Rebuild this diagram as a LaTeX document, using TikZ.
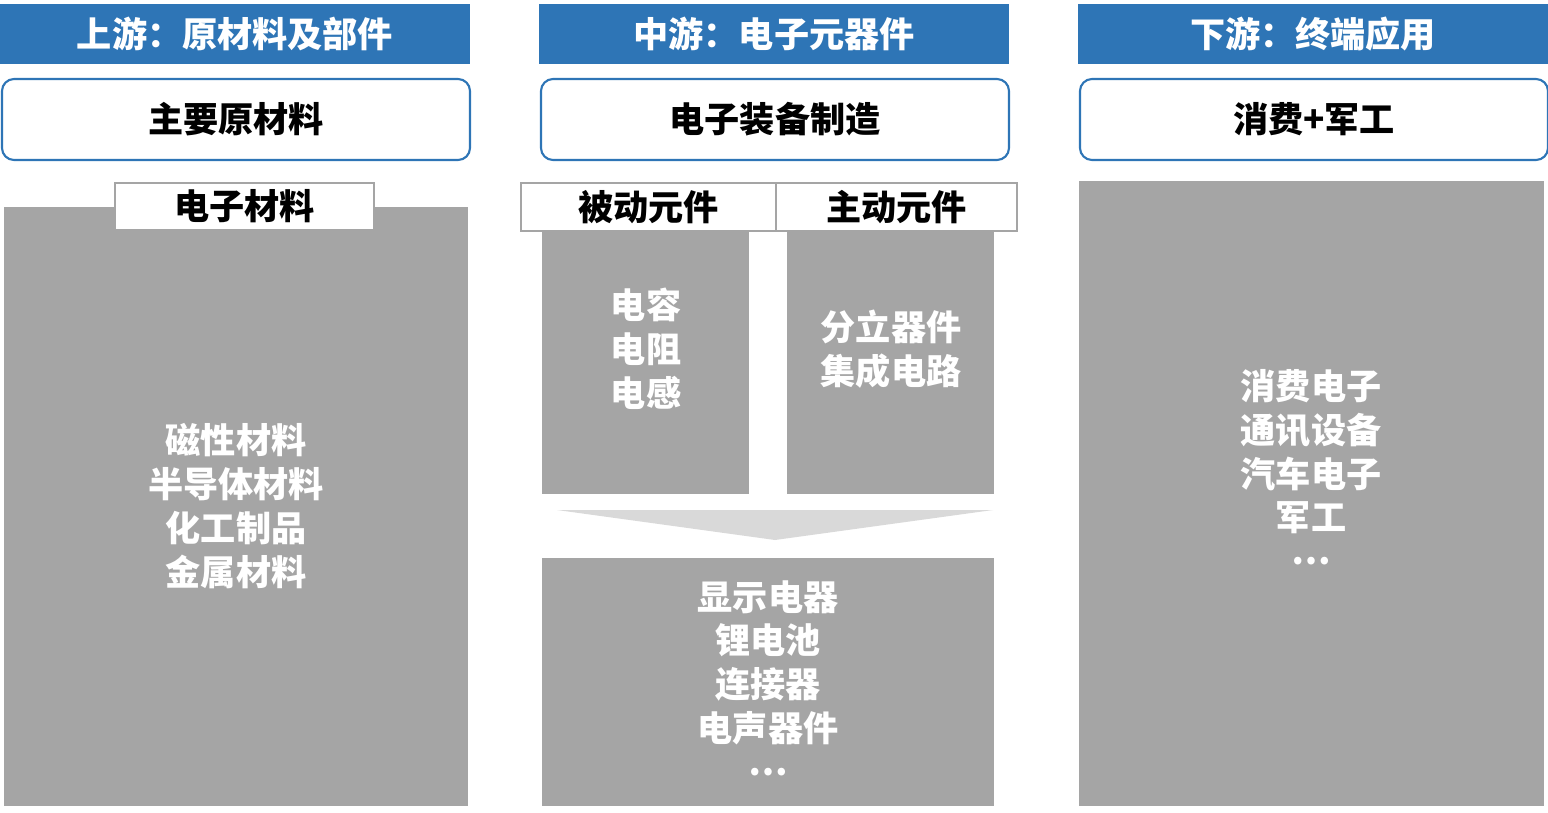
\documentclass[tikz,border=0pt]{standalone}
\usepackage{fontspec}
\setmainfont{Noto Sans CJK SC}
\usetikzlibrary{fit}
\definecolor{hdrblue}{HTML}{2E75B6}
\definecolor{boxgray}{HTML}{A5A5A5}
\definecolor{arrgray}{HTML}{D9D9D9}
\newcommand{\middots}{\raisebox{0.3em}{…}}

\begin{document}
\begin{tikzpicture}[x=0.02cm,y=-0.02cm,
    txt/.style={font=\bfseries\fontsize{20}{25}\selectfont, align=center},
    hdr/.style={fill=hdrblue, inner sep=0},
    rbox/.style={draw=hdrblue, line width=1.2pt, rounded corners=0.24cm, fill=white, inner sep=0},
    graybox/.style={fill=boxgray, inner sep=0},
    tab/.style={draw=boxgray, line width=1.2pt, fill=white, inner sep=0},
    body/.style={txt, text=white}]
\useasboundingbox (0,0) rectangle (1548,812);

% headers and top boxes
\foreach \x/\name/\head/\sub in {0/up/上游：原材料及部件/主要原材料,
        539/mid/中游：电子元器件/电子装备制造,
        1078/down/下游：终端应用/消费+军工}{
    \node[hdr, fit={(\x,4)(\x+470,64)}] (\name-hdr) {};
    \node[body] (\name-hdrtxt) at (\name-hdr.center) {\head};
    \node[rbox, fit={(\x+2,79)(\x+470,160)}] (\name-top) {};
    \node[txt] (\name-toptxt) at (\name-top.center) {\sub};
}

% upstream
\node[graybox, fit={(4,207)(468,806)}] (mat) {};
\node[tab, fit={(115,183)(374,230)}] (mat-tab) {};
\node[txt] (mat-tabtxt) at (mat-tab.center) {电子材料};
\node[body] (mat-txt) at (236,506) {磁性材料\\半导体材料\\化工制品\\金属材料};

% midstream
\node[graybox, fit={(542,231)(749,494)}] (pas) {};
\node[graybox, fit={(787,231)(994,494)}] (act) {};
\node[tab, fit={(521,183)(776,231)}] (pas-tab) {};
\node[tab, fit={(776,183)(1017,231)}] (act-tab) {};
\node[txt] (pas-tabtxt) at (pas-tab.center) {被动元件};
\node[txt] (act-tabtxt) at (act-tab.center) {主动元件};
\node[body] (pas-txt) at (646,349) {电容\\电阻\\电感};
\node[body] (act-txt) at (891,349) {分立器件\\集成电路};
\fill[arrgray] (557,510) -- (993,510) -- (775,540) -- cycle;
\node[graybox, fit={(542,558)(994,806)}] (oth) {};
\node[body] (oth-txt) at (768,683) {显示电器\\锂电池\\连接器\\电声器件\\\middots};

% downstream
\node[graybox, fit={(1079,181)(1544,806)}] (app) {};
\node[body] (app-txt) at (1311,472) {消费电子\\通讯设备\\汽车电子\\军工\\\middots};
\end{tikzpicture}
\end{document}
